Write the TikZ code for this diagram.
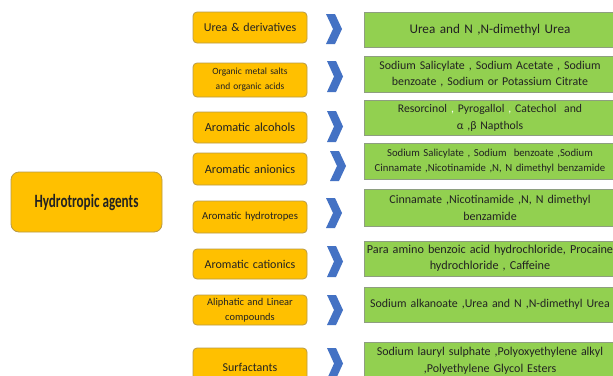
\documentclass[tikz,border=0pt]{standalone}
\usepackage{fontspec}
\setmainfont{Carlito}
\definecolor{orng}{HTML}{FFC000}
\definecolor{orngb}{HTML}{B89A48}
\definecolor{grn}{HTML}{92D050}
\definecolor{grnb}{HTML}{8E9E80}
\definecolor{chev}{HTML}{4472C4}
\definecolor{txt}{HTML}{222222}
\tikzset{
  cat/.style={draw=orngb, line width=0.8pt, fill=orng, rounded corners=4pt, minimum width=114pt, text width=112pt, align=center, inner sep=0pt, text=txt, font=\fontsize{12}{15}\selectfont},
  ex/.style={draw=grnb, line width=0.8pt, fill=grn, minimum width=252pt, text width=250pt, align=center, inner sep=0pt, text=txt, font=\fontsize{12}{16.5}\selectfont},
  root/.style={draw=orngb, line width=0.8pt, fill=orng, rounded corners=8pt, minimum width=151pt, minimum height=60pt, inner sep=0pt, text=txt},
  chevfill/.style={fill=chev, draw=none}
}
\newcommand{\chevron}[3]{\fill[chevfill] (#1,#2) -- ++(9,0) -- ++(7,#3/2) -- ++(-7,#3/2) -- ++(-9,0) -- ++(7,-#3/2) -- cycle;}
\begin{document}
\begin{tikzpicture}[x=1pt,y=-1pt]
\useasboundingbox (0,0) rectangle (613,375);
\clip (0,0) rectangle (613,375);
\fill[white] (0,0) rectangle (613,375);
% root
\node[root] (root) at (86.5,202) {\scalebox{0.7}[1]{\fontsize{18.8}{20}\selectfont\bfseries Hydrotropic agents}};
% categories
\node[cat, minimum height=31pt] (c1) at (250,27.5) {Urea \& derivatives};
\node[cat, minimum height=34pt, font=\fontsize{9.5}{15}\selectfont] (c2) at (250,80) {Organic metal salts\\and organic acids};
\node[cat, minimum height=31pt, font=\fontsize{12.3}{15}\selectfont] (c3) at (250,127.5) {Aromatic alcohols};
\node[cat, minimum height=32pt, font=\fontsize{12.3}{15}\selectfont] (c4) at (250,169) {Aromatic anionics};
\node[cat, minimum height=32pt, font=\fontsize{10.7}{15}\selectfont] (c5) at (250,217) {Aromatic hydrotropes};
\node[cat, minimum height=30pt] (c6) at (250,264) {Aromatic cationics};
\node[cat, minimum height=30pt, font=\fontsize{10.4}{15}\selectfont] (c7) at (250,310) {Aliphatic and Linear\\compounds};
\node[cat, minimum height=38pt] (c8) at (250,367) {Surfactants};
% chevrons
\chevron{326}{14}{30}
\chevron{327}{61}{31}
\chevron{327}{111}{31}
\chevron{330}{151}{30}
\chevron{326}{198}{30}
\chevron{327}{246}{31}
\chevron{327}{295}{30}
\chevron{327}{348}{31}
% examples
\node[ex, minimum height=35pt, font=\fontsize{13.2}{16}\selectfont] (e1) at (490,29.5) {Urea and N ,N-dimethyl Urea};
\node[ex, minimum height=36pt, font=\fontsize{11.9}{16}\selectfont] (e2) at (490,74) {Sodium Salicylate , Sodium Acetate , Sodium\\benzoate , Sodium or Potassium Citrate};
\node[ex, minimum height=35pt, font=\fontsize{11.7}{17}\selectfont] (e3) at (490,117.5) {Resorcinol {\color{white},} Pyrogallol {\color{white},} Catechol\ \ and\\α ,β Napthols};
\node[ex, minimum height=36pt, font=\fontsize{10.7}{15}\selectfont] (e4) at (490,161) {Sodium Salicylate , Sodium\ \ benzoate ,Sodium\\Cinnamate ,Nicotinamide ,N, N dimethyl benzamide};
\node[ex, minimum height=37pt, font=\fontsize{12}{17}\selectfont] (e5) at (490,207.5) {Cinnamate ,Nicotinamide ,N, N dimethyl\\benzamide};
\node[ex, minimum height=35pt, font=\fontsize{12.2}{16}\selectfont] (e6) at (490,258.5) {Para amino benzoic acid hydrochloride, Procaine\\hydrochloride , Caffeine};
\node[ex, minimum height=35pt, font=\fontsize{11.9}{16}\selectfont] (e7) at (490,304.5) {Sodium alkanoate ,Urea and N ,N-dimethyl Urea};
\node[ex, minimum height=38pt] (e8) at (490,361) {Sodium lauryl sulphate ,Polyoxyethylene alkyl\\,Polyethylene Glycol Esters};
\end{tikzpicture}
\end{document}
